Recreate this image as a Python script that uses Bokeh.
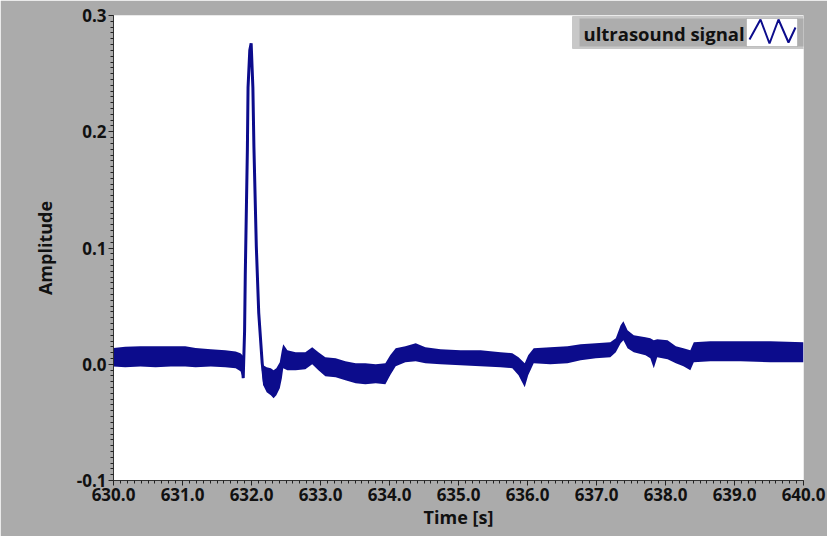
from bokeh.plotting import figure
from bokeh.models import (Range1d, SingleIntervalTicker, NumeralTickFormatter,
                          BoxAnnotation, PolyAnnotation, Label)
from bokeh.embed import file_html
from bokeh.resources import INLINE

# ---------------- data ----------------
# noisy band before the pulse: time [s], lower / upper envelope
pre_t = [630.00, 630.17, 630.39, 630.61, 630.83, 631.04, 631.19, 631.41,
         631.62, 631.77, 631.84, 631.88]
pre_lo = [-0.002, -0.0025, -0.002, -0.0025, -0.002, -0.002, -0.0025, -0.002,
          -0.0025, -0.0035, -0.006, -0.012]
pre_hi = [0.014, 0.015, 0.0155, 0.0155, 0.0155, 0.0155, 0.014, 0.013,
          0.012, 0.011, 0.0095, 0.007]

# the ultrasound pulse itself
spike_t = [631.86, 631.88, 631.90, 631.91, 631.94, 631.95, 631.975, 631.995,
           632.01, 632.02, 632.035, 632.07, 632.105, 632.155, 632.19]
spike_v = [0.004, -0.012, 0.029, 0.078, 0.184, 0.238, 0.270, 0.276,
           0.253, 0.238, 0.187, 0.101, 0.044, 0.001, -0.018]

# noisy band after the pulse
post_t = [632.15, 632.17, 632.22, 632.28, 632.32, 632.36, 632.41, 632.44,
          632.46, 632.52, 632.64, 632.78, 632.88, 632.97, 633.07, 633.22,
          633.36, 633.51, 633.65, 633.80, 633.94, 634.01, 634.09, 634.23,
          634.38, 634.52, 634.74, 635.03, 635.32, 635.61, 635.78, 635.87,
          635.96, 636.01, 636.09, 636.33, 636.58, 636.77, 636.99, 637.20,
          637.28, 637.35, 637.39, 637.45, 637.54, 637.71, 637.78, 637.83,
          637.88, 638.03, 638.15, 638.26, 638.36, 638.41, 638.65, 639.09,
          639.52, 640.00]
post_lo = [-0.0052, -0.0181, -0.0241, -0.0267, -0.0293, -0.0267, -0.0207, -0.0120,
           -0.0034, -0.0052, -0.0052, -0.0043, 0.0, -0.0052, -0.0103, -0.0112,
           -0.0138, -0.0164, -0.0172, -0.0164, -0.0172, -0.0095, -0.0017, 0.0017,
           0.0026, 0.0009, 0.0, -0.0009, -0.0017, -0.0026, -0.0034, -0.0095,
           -0.0198, -0.0095, 0.0009, 0.0, 0.0009, 0.0034, 0.0052, 0.0060,
           0.0103, 0.0181, 0.0207, 0.0138, 0.0103, 0.0077, 0.0052, -0.0034,
           0.0060, 0.0043, 0.0009, -0.0017, -0.0052, 0.0017, 0.0026, 0.0026,
           0.0017, 0.0017]
post_hi = [0.0034, -0.0009, -0.0026, -0.0034, -0.0052, -0.0034, 0.0017, 0.0120,
           0.0172, 0.0120, 0.0103, 0.0103, 0.0146, 0.0103, 0.0060, 0.0052,
           0.0026, 0.0009, 0.0009, 0.0, 0.0009, 0.0077, 0.0138, 0.0155,
           0.0181, 0.0146, 0.0129, 0.0120, 0.0120, 0.0103, 0.0095, 0.0060,
           0.0009, 0.0077, 0.0138, 0.0146, 0.0155, 0.0172, 0.0181, 0.0189,
           0.0224, 0.0336, 0.0370, 0.0293, 0.0250, 0.0232, 0.0224, 0.0207,
           0.0215, 0.0207, 0.0155, 0.0138, 0.0120, 0.0189, 0.0198, 0.0198,
           0.0198, 0.0189]

x_start, x_end = 630.0, 640.0
y_start, y_end = -0.1, 0.3
x_label = "Time [s]"
y_label = "Amplitude"
legend_label = "ultrasound signal"

# ---------------- styling ----------------
NAVY = "#0c0c8c"
PANEL = "#ababab"
FONT = "Open Sans"


def canvas_box(l, r, t, b, color, line=None):
    return BoxAnnotation(left=l, right=r, top=t, bottom=b,
                         left_units="canvas", right_units="canvas",
                         top_units="canvas", bottom_units="canvas",
                         fill_color=color, fill_alpha=1.0,
                         line_color=line, line_width=1, level="annotation")


p = figure(width=827, height=536, output_backend="svg", toolbar_location=None,
           x_range=Range1d(x_start, x_end),
           y_range=Range1d(y_start, y_end + 1e-9),
           min_border_left=113, min_border_right=24, min_border_top=15,
           min_border_bottom=56)
p.border_fill_color = PANEL
p.background_fill_color = "white"
p.outline_line_color = None
p.xgrid.visible = False
p.ygrid.visible = False

p.xaxis.ticker = SingleIntervalTicker(interval=1.0, num_minor_ticks=10)
p.yaxis.ticker = SingleIntervalTicker(interval=0.1, num_minor_ticks=20)
p.xaxis.formatter = NumeralTickFormatter(format="0.0")
p.yaxis.formatter = NumeralTickFormatter(format="0.0")

for ax in (p.xaxis, p.yaxis):
    ax.axis_line_color = "#333333"
    ax.major_tick_line_color = "#222222"
    ax.minor_tick_line_color = "#222222"
    ax.minor_tick_line_width = 1
    ax.major_tick_in = 0
    ax.major_tick_out = 5
    ax.minor_tick_in = 0
    ax.minor_tick_out = 3
    ax.major_label_text_font = FONT
    ax.major_label_text_font_style = "bold"
    ax.major_label_text_font_size = "17px"
    ax.major_label_text_color = "#111111"
    ax.axis_label_text_font = FONT
    ax.axis_label_text_font_style = "bold"
    ax.axis_label_text_font_size = "18px"
    ax.axis_label_text_color = "#111111"

p.xaxis.axis_label = x_label
p.yaxis.axis_label = y_label
p.xaxis.major_label_standoff = 2
p.xaxis.axis_label_standoff = 1
p.yaxis.major_label_standoff = 2
p.yaxis.axis_label_standoff = 17

# signal
p.varea(x=pre_t, y1=pre_lo, y2=pre_hi, fill_color=NAVY)
p.varea(x=post_t, y1=post_lo, y2=post_hi, fill_color=NAVY)
p.line(spike_t, spike_v, line_color=NAVY, line_width=3)

# ---------------- legend (LabVIEW-style plot legend) ----------------
for b in [canvas_box(572, 807, 16, 48, "#c8c8c8", "#8c8c8c"),
          canvas_box(579, 804, 18, 46, "#adadad"),
          canvas_box(746, 797, 18, 46, "white", "#7a7a7a")]:
    p.add_layout(b)
zx = [749, 760, 769, 778, 788, 795]
zy = [39, 19, 43, 19, 42, 27]
p.add_layout(PolyAnnotation(xs=zx + zx[-2:0:-1], ys=zy + zy[-2:0:-1],
                            xs_units="canvas", ys_units="canvas",
                            fill_alpha=0, line_color=NAVY, line_alpha=1.0,
                            line_width=2))
p.add_layout(Label(x=583, y=33, x_units="canvas", y_units="canvas",
                   text=legend_label, text_font=FONT, text_font_style="bold",
                   text_font_size="18.5px", text_color="#111111",
                   text_baseline="middle", text_align="left"))

open("out.html", "w").write(file_html(p, INLINE))
